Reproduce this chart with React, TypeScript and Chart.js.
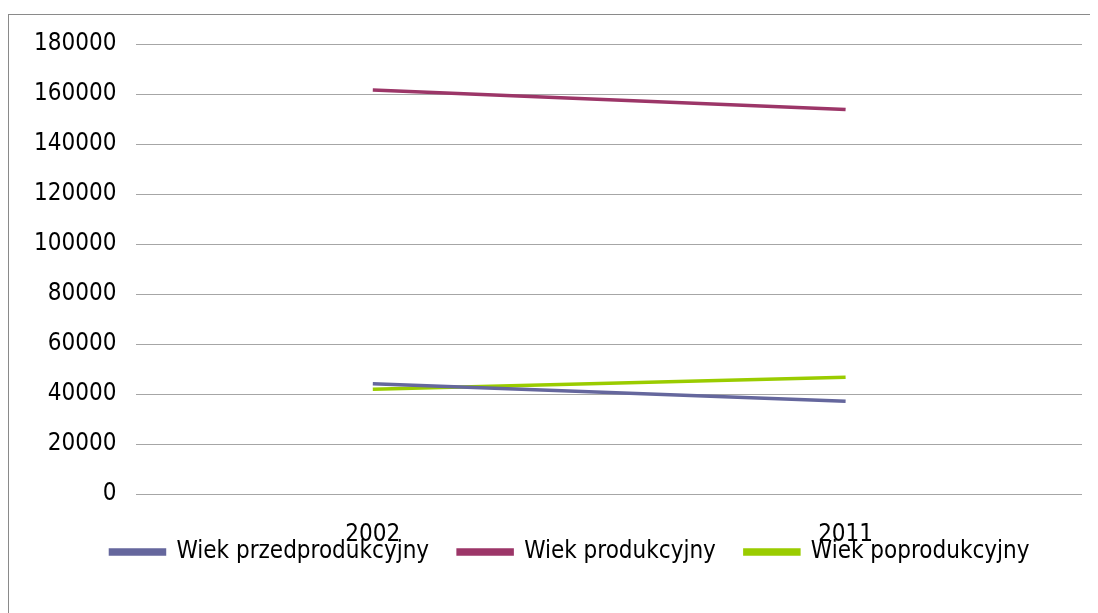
import React, { useEffect, useRef } from "react";
import { Chart, registerables } from "chart.js";

Chart.register(...registerables);

const categories = ["2002", "2011"];
const przedprodukcyjny = [44200, 37200];
const produkcyjny = [161600, 153800];
const poprodukcyjny = [42000, 46800];
const seriesNames = ["Wiek przedprodukcyjny", "Wiek produkcyjny", "Wiek poprodukcyjny"];
const yTickMin = 0;
const yTickMax = 180000;
const yTickStep = 20000;

const FONT = "'DejaVu Sans Condensed', 'DejaVu Sans', sans-serif";

// place the legend where the reference has it (overlapping the category labels)
const LEGEND_CENTER_X = 570;
const LEGEND_TOP = 511;

const legendPlacer = {
  id: "legendPlacer",
  afterLayout(chart: any) {
    const lg = chart.legend;
    if (!lg) return;
    const dx = LEGEND_CENTER_X - (lg.left + lg.right) / 2;
    const dy = LEGEND_TOP - lg.top;
    lg.left += dx;
    lg.right += dx;
    lg.top += dy;
    lg.bottom += dy;
  },
};

export default function App() {
  const ref = useRef<HTMLCanvasElement | null>(null);
  useEffect(() => {
    if (!ref.current) return;
    const colors = ["#65679D", "#9C3668", "#9ACC00"];
    const values = [przedprodukcyjny, produkcyjny, poprodukcyjny];
    const chart = new Chart(ref.current, {
      type: "line",
      data: {
        labels: categories,
        datasets: seriesNames.map((n, i) => ({
          label: n,
          data: values[i],
          borderColor: colors[i],
          backgroundColor: colors[i],
          borderWidth: 3.5,
          pointRadius: 0,
          tension: 0,
          fill: false,
        })),
      },
      plugins: [legendPlacer],
      options: {
        responsive: false,
        animation: false,
        layout: { padding: { top: 44, left: 14, right: 16, bottom: -25 } },
        plugins: {
          tooltip: { enabled: false },
          legend: {
            position: "bottom",
            labels: {
              boxWidth: 54,
              boxHeight: 4,
              padding: 29,
              color: "#000",
              font: { family: FONT, size: 24 },
            },
          },
        },
        scales: {
          x: {
            offset: true,
            grid: { display: false, drawTicks: false },
            border: { display: false },
            ticks: { color: "#000", padding: 26, font: { family: FONT, size: 24 }, maxRotation: 0 },
          },
          y: {
            min: yTickMin,
            max: yTickMax,
            grid: { color: "#a6a6a6", lineWidth: 1, drawTicks: false },
            border: { display: false },
            ticks: {
              stepSize: yTickStep,
              color: "#000",
              padding: 20,
              font: { family: FONT, size: 24 },
              callback: (v: any) => String(v),
            },
          },
        },
      },
    });
    return () => chart.destroy();
  }, []);
  return (
    <div style={{ position: "relative", width: 1090, height: 605 }}>
      <div
        style={{
          position: "absolute",
          left: 0,
          top: 6,
          width: 1100,
          height: 620,
          border: "1px solid #8a8a8a",
          boxSizing: "border-box",
        }}
      />
      <canvas
        ref={ref}
        width={1098}
        height={613}
        style={{ position: "fixed", left: 0, top: 0, width: 1098, height: 613 }}
      />
    </div>
  );
}
